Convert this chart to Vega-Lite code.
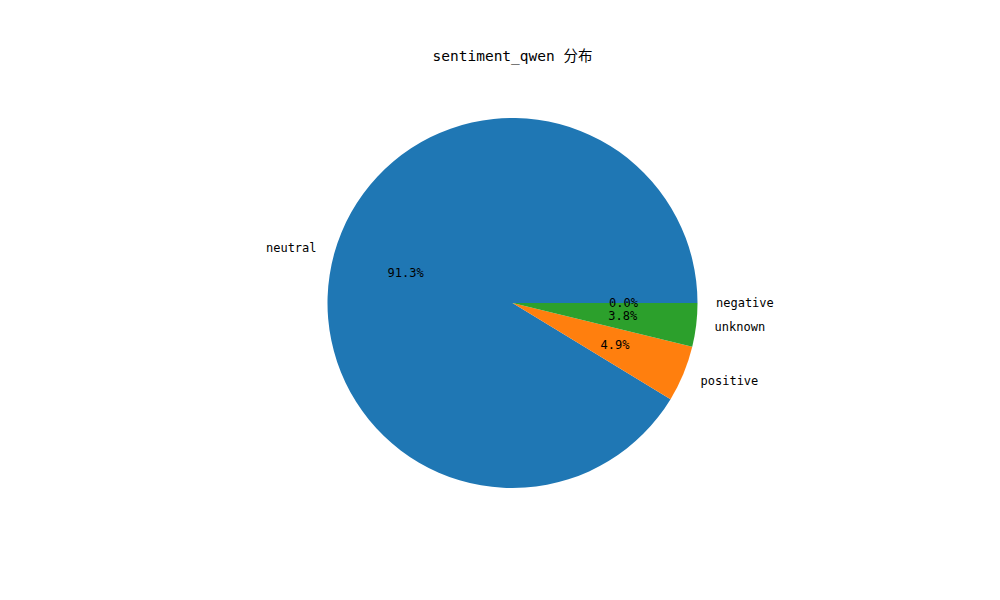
{
  "$schema": "https://vega.github.io/schema/vega-lite/v6.json",
  "autosize": {"type": "none"},
  "width": 775,
  "height": 462,
  "padding": {"left": 125, "top": 72, "right": 100, "bottom": 66},
  "background": "white",
  "title": {
    "text": "sentiment_qwen 分布",
    "font": "DejaVu Sans Mono, Noto Sans CJK SC",
    "fontSize": 14.5,
    "fontWeight": "normal",
    "color": "black",
    "anchor": "middle",
    "offset": 8
  },
  "data": {
    "values": [
      {"category": "neutral", "value": 91.3},
      {"category": "positive", "value": 4.9},
      {"category": "unknown", "value": 3.8},
      {"category": "negative", "value": 0.0}
    ]
  },
  "transform": [
    {"window": [{"op": "row_number", "as": "order"}]},
    {"calculate": "format(datum.value, '.1f') + '%'", "as": "pct"},
    {"calculate": "datum.category == 'neutral' ? datum.category : ''", "as": "leftLabel"},
    {"calculate": "datum.category == 'neutral' ? '' : datum.category", "as": "rightLabel"}
  ],
  "encoding": {
    "theta": {
      "field": "value",
      "type": "quantitative",
      "stack": true,
      "scale": {"range": [1.5707963, -4.712389]}
    },
    "order": {"field": "order", "type": "quantitative"}
  },
  "config": {"view": {"stroke": null}},
  "layer": [
    {
      "mark": {"type": "arc", "outerRadius": 185, "stroke": null},
      "encoding": {
        "color": {
          "field": "category",
          "type": "nominal",
          "scale": {
            "domain": ["neutral", "positive", "unknown", "negative"],
            "range": ["#1f77b4", "#ff7f0e", "#2ca02c", "#d62728"]
          },
          "legend": null
        }
      }
    },
    {
      "mark": {"type": "text", "radius": 111, "font": "DejaVu Sans Mono", "fontSize": 12, "color": "black", "align": "center", "baseline": "middle"},
      "encoding": {"text": {"field": "pct", "type": "nominal"}}
    },
    {
      "mark": {"type": "text", "radius": 203.5, "font": "DejaVu Sans Mono", "fontSize": 12, "color": "black", "align": "right", "baseline": "middle"},
      "encoding": {"text": {"field": "leftLabel", "type": "nominal"}}
    },
    {
      "mark": {"type": "text", "radius": 203.5, "font": "DejaVu Sans Mono", "fontSize": 12, "color": "black", "align": "left", "baseline": "middle"},
      "encoding": {"text": {"field": "rightLabel", "type": "nominal"}}
    }
  ]
}
